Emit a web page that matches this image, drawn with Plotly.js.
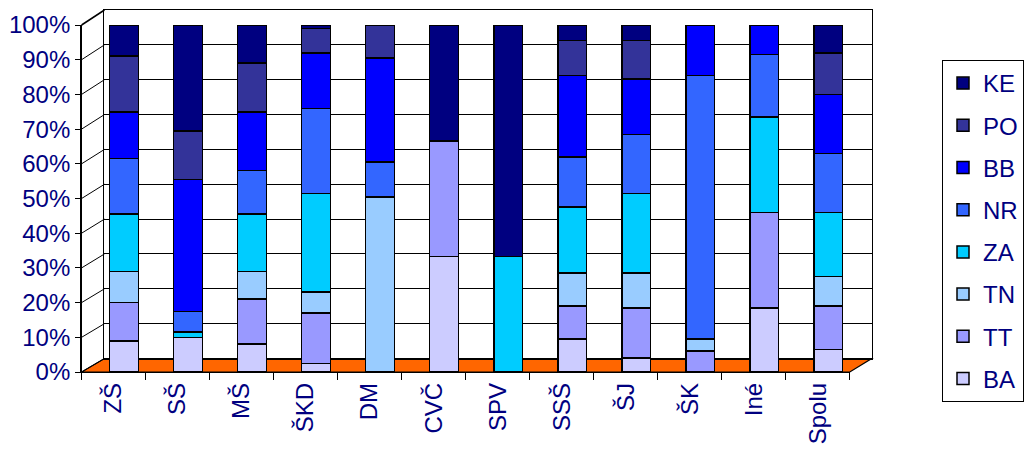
<!DOCTYPE html>
<html><head><meta charset="utf-8">
<script src="https://cdn.plot.ly/plotly-3.0.1.min.js"></script>
<style>html,body{margin:0;padding:0;background:#fff}#chart{width:1024px;height:449px}</style>
</head><body><div id="chart"></div>
<script>
// ---- data ----
const categories = ['ZŠ','SŠ','MŠ','ŠKD','DM','CVČ','SPV','SSŠ','ŠJ','ŠK','Iné','Spolu'];
const BA = [9, 10, 8, 2.5, 0, 33.3, 0, 9.5, 4, 0, 18.5, 6.5];
const TT = [11, 0, 13, 14.5, 0, 33.3, 0, 9.5, 14.5, 6, 27.5, 12.5];
const TN = [9, 0, 8, 6, 50.5, 0, 0, 9.5, 10, 3.5, 0, 8.5];
const ZA = [16.5, 1.5, 16.5, 28.5, 0, 0, 33.3, 19, 23, 0, 27.5, 18.5];
const NR = [16, 6, 12.5, 24.5, 10, 0, 0, 14.5, 17, 76, 18, 17];
const BB = [13.5, 38, 17, 16, 30, 0, 0, 23.5, 16, 14.5, 8.5, 17];
const PO = [16, 14, 14, 7, 9.5, 0, 0, 10, 11, 0, 0, 12];
const KE = [9, 30.5, 11, 1, 0, 33.4, 66.7, 4.5, 4.5, 0, 0, 8];
const seriesNames = ['BA','TT','TN','ZA','NR','BB','PO','KE'];
const seriesValues = [BA, TT, TN, ZA, NR, BB, PO, KE];
const yTickVals = [0,10,20,30,40,50,60,70,80,90,100];
const yTickText = yTickVals.map(v => v + '%');

// ---- style ----
const seriesColors = ['#CCCCFF','#9999FF','#99CCFF','#00CCFF','#3366FF','#0000FF','#333399','#000080'];
const W = 1024, H = 449;
const px = x => x / W, py = y => 1 - y / H;
const FONT = {family: 'Liberation Sans, Arial, sans-serif', size: 24, color: '#000080'};
// geometry (pixels)
const FRONT = {x0: 82, x1: 854, yb: 372, yt: 25};
const BACK = {x0: 105, x1: 876, yb: 358.5, yt: 10};
const BAR_SHIFT = 10.5;  // px depth shift of cylinders
const BAR_W = 0.45;

const catW = (FRONT.x1 - FRONT.x0) / categories.length;
const shiftUnits = BAR_SHIFT / catW;

const traces = [{type: 'scatter', x: [], y: [], xaxis: 'x', yaxis: 'y', showlegend: false, hoverinfo: 'skip'}];
seriesNames.forEach((n, i) => {
  traces.push({
    type: 'bar', name: n, x: categories, y: seriesValues[i],
    xaxis: 'x2', yaxis: 'y2', legendgroup: n, legendrank: seriesNames.length - i,
    width: BAR_W, offset: -BAR_W / 2 + shiftUnits,
    marker: {color: seriesColors[i], line: {color: '#000', width: 1.5}},
    hoverinfo: 'name+y'
  });
});

const fy = v => FRONT.yb - v / 100 * (FRONT.yb - FRONT.yt);
const by = v => BACK.yb - v / 100 * (BACK.yb - BACK.yt);
const shapes = [];
// floor
shapes.push({type: 'path', xref: 'paper', yref: 'paper', layer: 'below',
  path: `M${px(FRONT.x0)},${py(FRONT.yb)} L${px(BACK.x0)},${py(BACK.yb)} L${px(BACK.x1)},${py(BACK.yb)} L${px(FRONT.x1)},${py(FRONT.yb)} Z`,
  fillcolor: '#FF6600', line: {color: '#000', width: 1.2}});
// left wall lines
yTickVals.forEach(v => {
  shapes.push({type: 'line', xref: 'paper', yref: 'paper', layer: 'below',
    x0: px(FRONT.x0), y0: py(fy(v)), x1: px(BACK.x0), y1: py(by(v)),
    line: {color: '#000', width: (v === 100 ? 1.5 : 1)}});
});

const layout = {
  width: W, height: H, margin: {l: 0, r: 0, t: 0, b: 0},
  paper_bgcolor: '#fff', plot_bgcolor: 'rgba(0,0,0,0)',
  barmode: 'stack', font: FONT, showlegend: true,
  xaxis: {domain: [px(BACK.x0), px(BACK.x1)], anchor: 'y', range: [0, 1],
    showline: true, mirror: true, linecolor: '#000', linewidth: 1.3,
    showgrid: false, zeroline: false, showticklabels: false, ticks: '', fixedrange: true},
  yaxis: {domain: [py(BACK.yb), py(BACK.yt)], anchor: 'x', range: [0, 100],
    tickvals: yTickVals, showgrid: true, gridcolor: '#000', gridwidth: 1,
    showline: true, mirror: true, linecolor: '#000', linewidth: 1.3,
    showticklabels: false, ticks: '', zeroline: false, fixedrange: true},
  xaxis2: {type: 'category', domain: [px(FRONT.x0), px(FRONT.x1)], anchor: 'y2',
    range: [-0.5, categories.length - 0.5],
    showline: true, linecolor: '#000', linewidth: 1.3,
    ticks: 'outside', tickson: 'boundaries', ticklen: 7, tickcolor: '#000',
    tickangle: -90, tickfont: FONT, showgrid: false, zeroline: false, fixedrange: true},
  yaxis2: {domain: [py(FRONT.yb), py(FRONT.yt)], anchor: 'x2', range: [0, 100],
    tickmode: 'array', tickvals: yTickVals, ticktext: yTickText, tickfont: FONT,
    showline: true, linecolor: '#000', linewidth: 1.5,
    ticks: 'outside', ticklen: 5, tickcolor: '#000',
    showgrid: false, zeroline: false, fixedrange: true},
  legend: {x: px(947), y: py(60), xanchor: 'left', yanchor: 'top',
    traceorder: 'grouped', tracegroupgap: 8,
    bordercolor: '#000', borderwidth: 1, bgcolor: '#fff', font: FONT},
  shapes: shapes
};

Plotly.newPlot('chart', traces, layout, {displayModeBar: false, staticPlot: true});
</script>
</body></html>
